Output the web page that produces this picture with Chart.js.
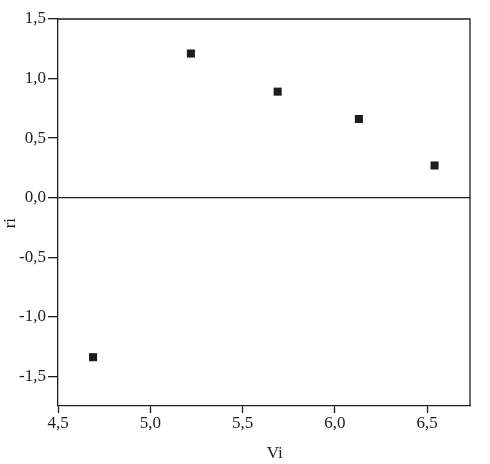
<!DOCTYPE html>
<html>
<head>
<meta charset="utf-8">
<script src="https://cdn.jsdelivr.net/npm/chart.js@4"></script>
<style>
  html, body { margin: 0; padding: 0; background: #fff; }
  #wrap { width: 490px; height: 464px; }
</style>
</head>
<body>
<div id="wrap"><canvas id="c" width="490" height="464"></canvas></div>
<script>
const xValues = [4.69, 5.22, 5.69, 6.13, 6.54];
const yValues = [-1.34, 1.21, 0.89, 0.66, 0.27];
const xTicks = [4.5, 5.0, 5.5, 6.0, 6.5];
const yTicks = [-1.5, -1.0, -0.5, 0.0, 0.5, 1.0, 1.5];
const xTitle = 'Vi';
const yTitle = 'ri';

const ink = '#1e1c1d';
const serif = "'Liberation Serif', 'Times New Roman', Times, serif";
const fmt = v => v.toFixed(1).replace('.', ',');
const pad = '\u00a0\u00a0\u00a0\u00a0\u00a0';

const boxPlugin = {
  id: 'box',
  afterDraw(chart) {
    const { ctx, chartArea: a } = chart;
    ctx.save();
    ctx.strokeStyle = ink;
    ctx.lineWidth = 1.3;
    ctx.beginPath();
    ctx.moveTo(a.left, a.top);
    ctx.lineTo(a.right, a.top);
    ctx.lineTo(a.right, a.bottom);
    ctx.stroke();
    ctx.restore();
  }
};

new Chart(document.getElementById('c'), {
  type: 'scatter',
  data: {
    datasets: [{
      data: xValues.map((x, i) => ({ x: x, y: yValues[i] })),
      pointStyle: 'rect',
      pointRadius: 5.7,
      pointHoverRadius: 5.7,
      pointBorderWidth: 0,
      backgroundColor: ink,
      borderColor: ink
    }]
  },
  options: {
    responsive: false,
    animation: false,
    events: [],
    layout: { padding: { top: 19, right: 20, left: 0, bottom: 0 } },
    plugins: { legend: { display: false }, tooltip: { enabled: false } },
    scales: {
      x: {
        type: 'linear',
        min: 4.5,
        max: 6.732,
        afterBuildTicks: s => { s.ticks = xTicks.map(v => ({ value: v })); },
        afterFit: s => { s.height = 58; },
        ticks: {
          color: ink,
          padding: 0,
          font: { family: serif, size: 17 },
          callback: v => fmt(v),
          maxRotation: 0,
          autoSkip: false
        },
        grid: {
          drawOnChartArea: false,
          drawTicks: true,
          tickLength: 7,
          tickColor: ink,
          tickWidth: 1.3
        },
        border: { display: true, color: ink, width: 1.3 },
        title: {
          display: true,
          text: pad + xTitle,
          color: ink,
          font: { family: serif, size: 17 },
          padding: { top: 0, bottom: 0 }
        }
      },
      y: {
        type: 'linear',
        min: -1.75,
        max: 1.5,
        afterBuildTicks: s => { s.ticks = yTicks.map(v => ({ value: v })); },
        afterFit: s => { s.width = 58; },
        ticks: {
          color: ink,
          padding: 2,
          font: { family: serif, size: 17 },
          callback: v => fmt(v),
          autoSkip: false
        },
        grid: {
          drawOnChartArea: true,
          drawTicks: true,
          tickLength: 10,
          tickColor: ink,
          tickWidth: 1.3,
          color: c => (c.tick && c.tick.value === 0) ? ink : 'rgba(0,0,0,0)',
          lineWidth: 1.3
        },
        border: { display: true, color: ink, width: 1.3 },
        title: {
          display: true,
          text: yTitle + pad,
          color: ink,
          font: { family: serif, size: 17 },
          padding: { top: 0, bottom: 0 }
        }
      }
    }
  },
  plugins: [boxPlugin]
});
</script>
</body>
</html>
